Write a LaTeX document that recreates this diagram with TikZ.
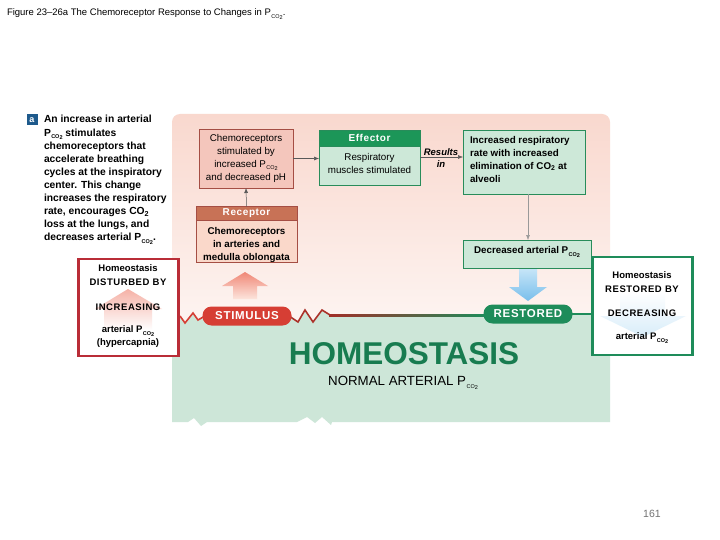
\documentclass[tikz,border=0pt]{standalone}
\usepackage{fontspec}
\setmainfont{Liberation Sans}
\newfontfamily\wideb[LetterSpace=6]{Liberation Sans}
\usetikzlibrary{arrows.meta,calc}
\definecolor{pinkT}{RGB}{249,216,206}
\definecolor{pinkB}{RGB}{253,244,241}
\definecolor{greenbg}{RGB}{205,230,216}
\definecolor{chemofill}{RGB}{244,198,188}
\definecolor{chemoline}{RGB}{165,78,68}
\definecolor{rechead}{RGB}{200,114,86}
\definecolor{recbody}{RGB}{250,216,202}
\definecolor{effhead}{RGB}{28,150,88}
\definecolor{effbody}{RGB}{205,232,216}
\definecolor{effline}{RGB}{40,140,90}
\definecolor{stimred}{RGB}{214,62,52}
\definecolor{restgreen}{RGB}{30,140,90}
\definecolor{homeo}{RGB}{24,124,80}
\definecolor{distred}{RGB}{185,45,55}
\definecolor{blueT}{RGB}{200,230,248}
\definecolor{blueB}{RGB}{120,190,235}
\definecolor{pinkArT}{RGB}{240,135,118}
\definecolor{pinkArB}{RGB}{252,228,220}
\definecolor{abox}{RGB}{30,90,140}
\newcommand\pco{P\kern.4pt\raisebox{-0.45ex}{\fontsize{5.5}{6}\selectfont CO\raisebox{-0.35ex}{2}}}
\begin{document}
\begin{tikzpicture}[x=1pt,y=-1pt,
  every node/.style={inner sep=0pt,outer sep=0pt},
  boxtxt/.style={font=\fontsize{9.8}{13}\selectfont, align=center},
  boldtxt/.style={font=\fontsize{9.8}{13}\selectfont\bfseries},
  chemobox/.style={draw=chemoline, fill=chemofill, line width=0.9pt},
  greenbox/.style={draw=effline, fill=effbody, line width=0.9pt},
  conn/.style={line width=0.5pt, draw=black!65, -{Latex[length=5pt,width=4pt]}},
  pill/.style={rounded corners=9pt, minimum height=19pt, text=white, font=\fontsize{11.5}{12}\wideb\bfseries},
  sidebox/.style={draw, fill=white, line width=2.4pt},
  sidetxt/.style={font=\fontsize{9.5}{11}\selectfont\bfseries}
]
\useasboundingbox (0,0) rectangle (720,540);
\fill[white] (0,0) rectangle (720,540);

% title
\node[anchor=base west, font=\fontsize{9.5}{10}\selectfont] (title) at (7,16) {Figure 23--26a The Chemoreceptor Response to Changes in \pco.};

% backgrounds
\shade[top color=pinkT, bottom color=pinkB, rounded corners=8pt] (172,114) rectangle (610,322);
\fill[greenbg] (172,316) -- (180,316) -- (185,323) -- (193,313) -- (198,320) -- (203,316)
  -- (291,316) -- (298,322) -- (305,310) -- (313,322) -- (322,310) -- (330,315)
  -- (610,315) -- (610,422) -- (332,422) -- (331,425) -- (322,417) -- (315,423) -- (307,417)
  -- (297,422) -- (207,422) -- (201,426) -- (194,418) -- (188,422) -- (172,422) -- cycle;

% big arrows
\shade[top color=pinkArT, bottom color=pinkArB]
  (245,272) -- (268,286) -- (257,286) -- (257,299) -- (233,299) -- (233,286) -- (222,286) -- cycle;
\shade[top color=blueT, bottom color=blueB]
  (519,268) -- (537,268) -- (537,287) -- (547,287) -- (528,301) -- (509,287) -- (519,287) -- cycle;

% left paragraph
\node[fill=abox, minimum width=11pt, minimum height=11pt, text=white, font=\fontsize{9}{9}\selectfont\bfseries] (abx) at (32,120) {a};
\node[anchor=north west, align=left, font=\fontsize{10.3}{13.1}\selectfont\bfseries] (para) at (44,115.5)
 {An increase in arterial\\
  \pco\ stimulates\\
  chemoreceptors that\\
  accelerate breathing\\
  cycles at the inspiratory\\
  center. This change\\
  increases the respiratory\\
  rate, encourages CO\textsubscript{2}\\
  loss at the lungs, and\\
  decreases arterial \pco.};

% chemoreceptor box
\node[chemobox, minimum width=94pt, minimum height=59pt] (chemo) at (246,158.5) {};
\node[boxtxt] (chemot) at (246,158) {Chemoreceptors\\stimulated by\\increased \pco\\and decreased pH};

% receptor
\node[draw=chemoline, fill=recbody, line width=0.9pt, minimum width=101pt, minimum height=56pt] (rec) at (246.5,234.5) {};
\node[draw=chemoline, fill=rechead, line width=0.9pt, minimum width=101pt, minimum height=14pt, text=white, font=\fontsize{10}{10}\wideb\bfseries] (rechd) at (246.5,213.5) {Receptor};
\node[boldtxt, align=center] (rect) at (246.5,244.5) {Chemoreceptors\\in arteries and\\medulla oblongata};

% effector
\node[greenbox, minimum width=101pt, minimum height=55pt] (eff) at (369.5,157.5) {};
\node[draw=effline, fill=effhead, line width=0.9pt, minimum width=101pt, minimum height=16pt, text=white, font=\fontsize{10}{10}\wideb\bfseries] (effhd) at (369.5,138) {Effector};
\node[boxtxt] (efft) at (369.5,163.5) {Respiratory\\muscles stimulated};

% increased / decreased
\node[greenbox, minimum width=122pt, minimum height=64pt] (inc) at (524,162) {};
\node[anchor=north west, align=left, font=\fontsize{9.8}{13}\selectfont\bfseries] (inct) at (470,136) {Increased respiratory\\rate with increased\\elimination of CO\textsubscript{2} at\\alveoli};
\node[greenbox, minimum width=128pt, minimum height=28pt] (dec) at (527,254) {};
\node[font=\fontsize{9.8}{13}\selectfont\bfseries] (dect) at (527,252) {Decreased arterial \pco};

% connectors
\draw[conn] (rechd.north) -- (chemo.south);
\draw[conn] (chemo.east) -- (eff.west |- chemo.east);
\draw[conn] (eff.east |- 0,157) -- (inc.west |- 0,157);
\node[font=\fontsize{9.5}{12}\selectfont\bfseries\itshape, align=center] (res) at (441,158) {Results\\in};
\draw[line width=0.5pt, draw=black!40, -{Latex[length=5pt,width=4pt]}] (inc.south -| 528,0) -- (dec.north -| 528,0);

% stimulus / restored line
\coordinate (zl) at (180,316);
\draw[stimred, line width=1.6pt, line join=miter] (zl) -- (185,323) -- (193,313) -- (198,320) -- (205,316);
\draw[stimred!80!black, line width=1.6pt] (289,316) -- (298,322) -- (305,310) -- (313,322) -- (322,310) -- (330,315);
\shade[left color=stimred!75!black, right color=restgreen] (329,314.2) rectangle (486,316.2);
\draw[restgreen, line width=1.8pt] (570,314) -- (594,314);
\node[pill, fill=stimred, minimum width=89pt] (stim) at (247,316) {STIMULUS};
\node[pill, fill=restgreen, minimum width=89pt] (restp) at (528,314) {RESTORED};

% disturbed box
\node[sidebox, draw=distred, minimum width=100pt, minimum height=97pt] (dist) at (128.5,307.5) {};
\shade[top color=pinkArT!80, bottom color=white, opacity=0.8]
  (128,289) -- (162,309) -- (152,309) -- (152,330) -- (104,330) -- (104,309) -- (95,309) -- cycle;
\node[sidetxt] (d1) at (128,268) {Homeostasis};
\node[sidetxt, font=\fontsize{9.5}{11}\wideb\bfseries] (d2) at (128,282) {DISTURBED BY};
\node[sidetxt, font=\fontsize{9.5}{11}\wideb\bfseries] (d3) at (128,307) {INCREASING};
\node[sidetxt] (d4) at (128,331) {arterial \pco};
\node[sidetxt] (d5) at (128,343) {(hypercapnia)};

% restored box
\node[sidebox, draw=restgreen, minimum width=100pt, minimum height=98pt] (rest) at (642.5,306) {};
\shade[top color=white, bottom color=blueT, opacity=0.7]
  (620,292) -- (665,292) -- (665,316) -- (686,316) -- (643,337) -- (600,316) -- (620,316) -- cycle;
\node[sidetxt] (r1) at (642,275) {Homeostasis};
\node[sidetxt, font=\fontsize{9.5}{11}\wideb\bfseries] (r2) at (642,289) {RESTORED BY};
\node[sidetxt, font=\fontsize{9.5}{11}\wideb\bfseries] (r3) at (642,313) {DECREASING};
\node[sidetxt] (r4) at (642,338) {arterial \pco};

% homeostasis
\node[text=homeo, font=\fontsize{31.5}{33}\selectfont\bfseries] (homt) at (404,354) {HOMEOSTASIS};
\node[font=\fontsize{13.3}{15}\selectfont] (norm) at (403,383) {NORMAL ARTERIAL \pco};

% page number
\node[text=black!55, font=\fontsize{10.5}{12}\selectfont] (page) at (652,514) {161};
\end{tikzpicture}
\end{document}
